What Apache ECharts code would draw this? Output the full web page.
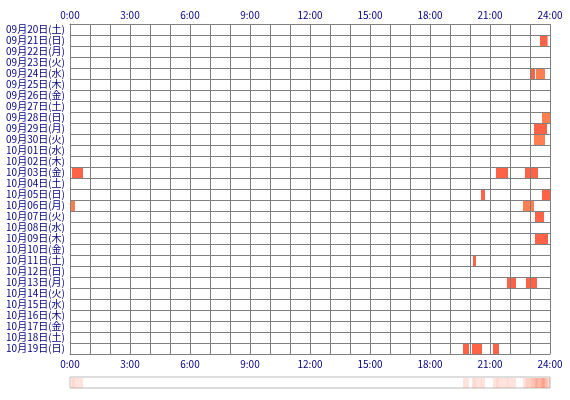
<!DOCTYPE html>
<html>
<head>
<meta charset="utf-8">
<script src="https://cdn.jsdelivr.net/npm/echarts@6/dist/echarts.min.js"></script>
<style>html,body{margin:0;padding:0;background:#fff}#c{width:570px;height:400px}</style>
</head>
<body>
<div id="c"></div>
<script>
const dates = ['09月20日(土)','09月21日(日)','09月22日(月)','09月23日(火)','09月24日(水)','09月25日(木)','09月26日(金)','09月27日(土)','09月28日(日)','09月29日(月)','09月30日(火)','10月01日(水)','10月02日(木)','10月03日(金)','10月04日(土)','10月05日(日)','10月06日(月)','10月07日(火)','10月08日(水)','10月09日(木)','10月10日(金)','10月11日(土)','10月12日(日)','10月13日(月)','10月14日(火)','10月15日(水)','10月16日(木)','10月17日(金)','10月18日(土)','10月19日(日)'];
const hourTicks = [0,3,6,9,12,15,18,21,24];
// sessions: day index, start hour, end hour, colour kind
const sessionDay   = [1,     4,     4,     8,    9,     10,    13,   13,   13,    15,    15,   16,   16,    17,    19,    21,    23,    23,    29,    29,   29];
const sessionStart = [23.5,  23.05, 23.3,  23.6, 23.2,  23.2,  0.1,  21.3, 22.75, 20.55, 23.6, 0.05, 22.65, 23.25, 23.25, 20.15, 21.85, 22.8,  19.65, 20.1, 21.15];
const sessionEnd   = [23.88, 23.25, 23.75, 24,   23.85, 23.75, 0.65, 21.9, 23.4,  20.75, 24,   0.25, 23.2,  23.7,  23.9,  20.3,  22.3,  23.35, 19.95, 20.6, 21.45];
const sessionKind  = ['a',   'a',   'b',   'b',  'a',   'b',   'a',  'a',  'a',   'a',   'a',  'b',  'b',   'a',   'a',   'a',   'a',   'a',   'a',   'a',  'a'];

const kindColor = {a:'#FF6347', b:'#FF7F50'};
const sessions = sessionDay.map((d,i)=>[sessionStart[i], sessionEnd[i], d, sessionKind[i]]);

// aggregate strip: number of days active in each 3-minute bin
const binW = 0.05;
const strip = [];
for (let k = 0; k < 480; k++) {
  const c = (k + 0.5) * binW;
  let n = 0;
  for (let i = 0; i < sessionDay.length; i++) if (c >= sessionStart[i] && c < sessionEnd[i]) n++;
  if (n > 0) strip.push([k*binW, (k+1)*binW, n]);
}

const font = 'Noto Sans CJK JP';
const labelColor = '#000080';
const chart = echarts.init(document.getElementById('c'), null, {renderer:'canvas'});
chart.setOption({
  animation:false,
  grid:[
    {left:70, top:24, width:480, height:330, show:false},
    {left:70, top:377, width:480, height:11, show:true, borderColor:'#BBBBBB', borderWidth:1, backgroundColor:'#fff'}
  ],
  xAxis:[
    {gridIndex:0, type:'value', min:0, max:24, interval:1, position:'bottom', z:5,
     axisLine:{show:true, lineStyle:{color:'#808080'}}, axisTick:{show:false},
     splitLine:{show:true, lineStyle:{color:'#808080', width:1}},
     axisLabel:{color:labelColor, fontSize:10, fontFamily:font, margin:5,
       formatter:v=> hourTicks.indexOf(v)>=0 ? v+':00' : ''}},
    {gridIndex:0, type:'value', min:0, max:24, interval:1, position:'top', z:5,
     axisLine:{show:true, lineStyle:{color:'#808080'}}, axisTick:{show:false}, splitLine:{show:false},
     axisLabel:{color:labelColor, fontSize:10, fontFamily:font, margin:4,
       formatter:v=> hourTicks.indexOf(v)>=0 ? v+':00' : ''}},
    {gridIndex:1, type:'value', min:0, max:24, show:false}
  ],
  yAxis:[
    {gridIndex:0, type:'category', data:dates, inverse:true, z:5,
     axisLine:{show:true, lineStyle:{color:'#808080'}}, axisTick:{show:false},
     splitLine:{show:true, interval:0, lineStyle:{color:'#808080', width:1}},
     axisLabel:{color:labelColor, fontSize:10, fontFamily:font, margin:5, interval:0}},
    {gridIndex:1, type:'value', min:0, max:1, show:false}
  ],
  series:[
    {type:'custom', xAxisIndex:0, yAxisIndex:0, z:2, data:sessions,
     renderItem:(params, api)=>{
       const p0 = api.coord([api.value(0), api.value(2)]);
       const p1 = api.coord([api.value(1), api.value(2)]);
       const h = api.size([0,1])[1];
       const item = sessions[params.dataIndex];
       return {type:'rect', shape:{x:p0[0], y:p0[1]-h/2, width:p1[0]-p0[0], height:h},
               style:{fill:kindColor[item[3]]}};
     }},
    {type:'custom', xAxisIndex:2, yAxisIndex:1, z:2, data:strip,
     renderItem:(params, api)=>{
       const p0 = api.coord([api.value(0), 1]);
       const p1 = api.coord([api.value(1), 0]);
       const n = api.value(2);
       const a = Math.min(1, 0.12 + 0.065*n);
       return {type:'rect', shape:{x:p0[0], y:p0[1]+1, width:p1[0]-p0[0], height:p1[1]-p0[1]-1},
               style:{fill:'rgba(255,105,65,'+a+')'}};
     }}
  ]
});
</script>
</body>
</html>
